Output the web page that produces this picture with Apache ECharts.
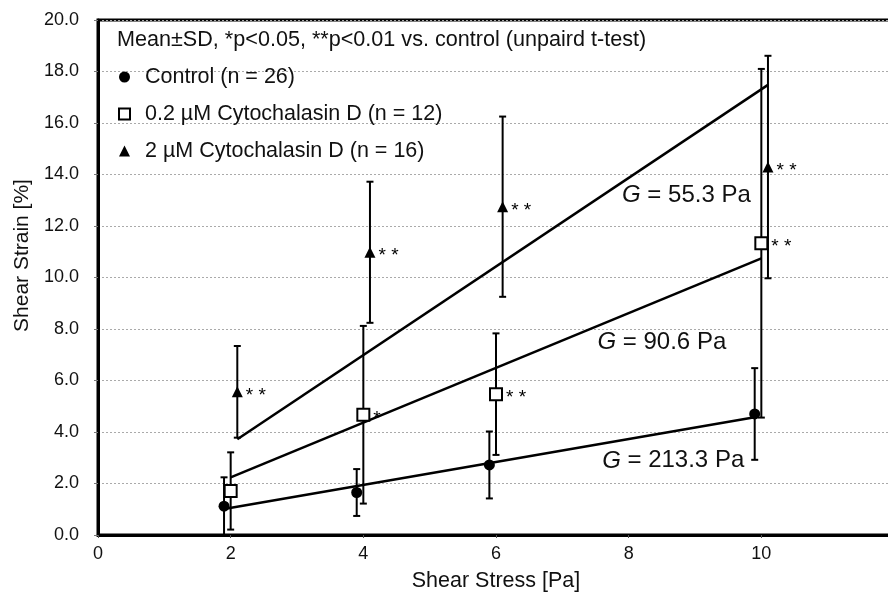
<!DOCTYPE html>
<html>
<head>
<meta charset="utf-8">
<script src="https://cdn.jsdelivr.net/npm/echarts@6/dist/echarts.min.js"></script>
<style>
  html, body { margin: 0; padding: 0; background: #fff; }
  #main { width: 888px; height: 599px; }
</style>
</head>
<body>
<div id="main"></div>
<script>
// shear stress levels [Pa]
const stress = [2, 4, 6, 10];

// mean and SD of shear strain [%] per group
const controlMean = [1.12, 1.65, 2.72, 4.7];
const controlSD = [1.12, 0.91, 1.3, 1.78];
const cd02Mean = [1.71, 4.67, 5.47, 11.33];
const cd02SD = [1.5, 3.45, 2.36, 6.77];
const cd2Mean = [5.56, 10.98, 12.75, 14.29];
const cd2SD = [1.78, 2.74, 3.5, 4.32];

// small horizontal offsets so the groups don't sit on top of each other
const controlX = [1.9, 3.9, 5.9, 9.9];
const cd02X = [2.0, 4.0, 6.0, 10.0];
const cd2X = [2.1, 4.1, 6.1, 10.1];

// significance marks vs. control
const cd02Sig = ['', '*', '* *', '* *'];
const cd2Sig = ['* *', '* *', '* *', '* *'];

// fitted lines (end points)
const controlFit = [[1.9, 1.01], [9.9, 4.57]];
const cd02Fit = [[2.0, 2.24], [10.0, 10.74]];
const cd2Fit = [[2.1, 3.72], [10.1, 17.48]];

// shear modulus labels, anchored in data coordinates
const gLabels = [
  { x: 7.9, y: 13.2, text: '55.3' },
  { x: 7.53, y: 7.5, text: '90.6' },
  { x: 7.6, y: 2.88, text: '213.3' }
];

const names = ['Control (n = 26)', '0.2 \u00b5M Cytochalasin D (n = 12)', '2 \u00b5M Cytochalasin D (n = 16)'];
const FONT = '"Liberation Sans", Arial, sans-serif';

const zip = (xs, ys) => xs.map((x, i) => [x, ys[i]]);
const bars = (xs, m, s) => xs.map((x, i) => [x, m[i] - s[i], m[i] + s[i]]);

function errRender(params, api) {
  const x = api.value(0);
  const top = api.coord([x, api.value(2)]);
  const bot = api.coord([x, api.value(1)]);
  const w = 3.5;
  const st = { stroke: '#000', lineWidth: 2 };
  return {
    type: 'group',
    children: [
      { type: 'line', shape: { x1: top[0], y1: top[1], x2: bot[0], y2: bot[1] }, style: st },
      { type: 'line', shape: { x1: top[0] - w, y1: top[1], x2: top[0] + w, y2: top[1] }, style: st },
      { type: 'line', shape: { x1: bot[0] - w, y1: bot[1], x2: bot[0] + w, y2: bot[1] }, style: st }
    ]
  };
}

function errSeries(data) {
  return {
    type: 'custom',
    renderItem: errRender,
    data: data,
    encode: { x: 0, y: [1, 2] },
    clip: true,
    silent: true,
    z: 2
  };
}

function fitSeries(data) {
  return {
    type: 'line',
    data: data,
    symbol: 'none',
    lineStyle: { color: '#000', width: 2.5 },
    silent: true,
    z: 3
  };
}

function sigLabel(marks) {
  return {
    show: true,
    position: 'right',
    distance: 3,
    offset: [0, 4],
    formatter: p => marks[p.dataIndex],
    fontFamily: FONT,
    fontSize: 19,
    color: '#000'
  };
}

const chart = echarts.init(document.getElementById('main'));

const option = {
  backgroundColor: '#fff',
  animation: false,
  textStyle: { fontFamily: FONT },
  title: {
    text: 'Mean\u00b1SD, *p<0.05, **p<0.01 vs. control (unpaird t-test)',
    left: 117,
    top: 29,
    padding: 0,
    textStyle: { fontFamily: FONT, fontSize: 21.6, fontWeight: 'normal', color: '#111' }
  },
  legend: {
    orient: 'vertical',
    left: 118,
    top: 65,
    padding: 0,
    itemWidth: 11,
    itemHeight: 11,
    itemGap: 13,
    data: names,
    textStyle: { fontFamily: FONT, fontSize: 21.5, lineHeight: 24, color: '#111', padding: [0, 0, 0, 10] }
  },
  grid: {
    left: 98,
    top: 20,
    width: 796,
    height: 515,
    containLabel: false,
    outerBoundsMode: 'none',
    show: true,
    borderColor: '#000',
    borderWidth: 3,
    backgroundColor: '#fff'
  },
  xAxis: {
    type: 'value',
    min: 0,
    max: 12,
    interval: 2,
    name: 'Shear Stress [Pa]',
    nameLocation: 'middle',
    nameGap: 35,
    nameTextStyle: { fontFamily: FONT, fontSize: 21.5, color: '#111' },
    axisLine: { show: true, onZero: false, lineStyle: { color: '#000', width: 3 } },
    axisTick: { show: true, length: 3, lineStyle: { color: '#555' } },
    axisLabel: { fontFamily: FONT, fontSize: 18, color: '#111', margin: 10, formatter: v => (v >= 12 ? '' : String(v)) },
    splitLine: { show: false }
  },
  yAxis: {
    type: 'value',
    min: 0,
    max: 20,
    interval: 2,
    name: 'Shear Strain [%]',
    nameLocation: 'middle',
    nameGap: 62,
    nameTextStyle: { fontFamily: FONT, fontSize: 21, color: '#111', padding: [0, 0, 0, 44] },
    axisLine: { show: true, lineStyle: { color: '#000', width: 3 } },
    axisTick: { show: true, length: 4, lineStyle: { color: '#777' } },
    axisLabel: { fontFamily: FONT, fontSize: 18, color: '#111', margin: 19, formatter: v => v.toFixed(1) },
    splitLine: { show: true, lineStyle: { color: '#aaa', width: 1, type: [2, 2] } }
  },
  series: [
    errSeries(bars(controlX, controlMean, controlSD)),
    errSeries(bars(cd02X, cd02Mean, cd02SD)),
    errSeries(bars(cd2X, cd2Mean, cd2SD)),
    fitSeries(controlFit),
    fitSeries(cd02Fit),
    fitSeries(cd2Fit),
    {
      name: names[0],
      type: 'scatter',
      data: zip(controlX, controlMean),
      symbol: 'circle',
      symbolSize: 11,
      itemStyle: { color: '#000', opacity: 1 },
      z: 5
    },
    {
      name: names[1],
      type: 'scatter',
      data: zip(cd02X, cd02Mean),
      symbol: 'rect',
      symbolSize: 12,
      itemStyle: { color: '#fff', borderColor: '#000', borderWidth: 2, opacity: 1 },
      label: sigLabel(cd02Sig),
      z: 5
    },
    {
      name: names[2],
      type: 'scatter',
      data: zip(cd2X, cd2Mean),
      symbol: 'triangle',
      symbolSize: 11,
      itemStyle: { color: '#000', opacity: 1 },
      label: sigLabel(cd2Sig),
      z: 5
    },
    {
      type: 'scatter',
      data: gLabels.map(g => [g.x, g.y, g.text]),
      symbolSize: 0,
      silent: true,
      z: 6,
      itemStyle: { opacity: 1 },
      label: {
        show: true,
        position: 'right',
        distance: 0,
        formatter: p => '{i|G} = ' + p.value[2] + ' Pa',
        fontFamily: FONT,
        fontSize: 24,
        color: '#111',
        rich: { i: { fontFamily: FONT, fontSize: 24, fontStyle: 'italic', color: '#111' } }
      }
    }
  ]
};

chart.setOption(option);
</script>
</body>
</html>
